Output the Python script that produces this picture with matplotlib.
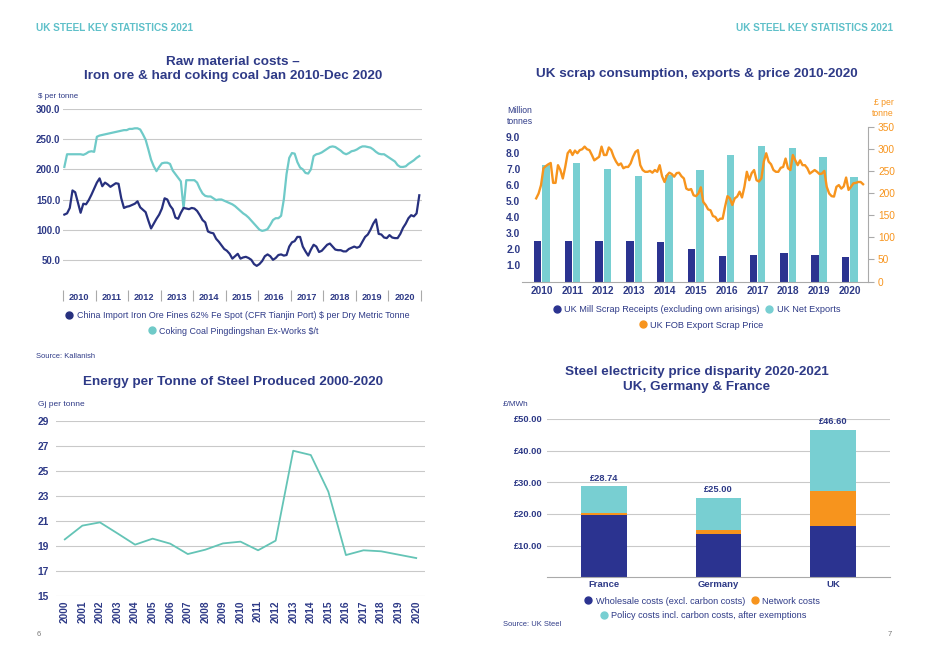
import numpy as np
import matplotlib
matplotlib.use("Agg")
import matplotlib.pyplot as plt
from matplotlib.lines import Line2D

plt.rcParams['font.family'] = ['Liberation Sans', 'DejaVu Sans']

# ---------------- DATA ----------------
# Raw material costs, monthly Jan 2010 - Dec 2020 ($ per tonne)
iron_ore = [125, 127, 136, 165, 162, 145, 128, 143, 142, 149, 158, 168,
            178, 185, 172, 178, 175, 171, 174, 177, 176, 152, 136, 138,
            139, 141, 143, 147, 137, 133, 129, 115, 102, 110, 118, 125,
            135, 152, 150, 140, 134, 120, 118, 128, 136, 135, 134, 136,
            135, 131, 124, 116, 112, 97, 95, 94, 85, 80, 74, 68,
            65, 60, 52, 56, 60, 52, 54, 55, 53, 50, 43, 40,
            43, 48, 56, 59, 56, 50, 53, 58, 59, 57, 58, 72,
            79, 81, 88, 88, 72, 64, 57, 67, 75, 72, 63, 65,
            70, 75, 77, 72, 67, 66, 66, 64, 64, 68, 70, 72,
            70, 72, 80, 88, 92, 100, 110, 117, 93, 92, 87, 86,
            91, 87, 86, 86, 93, 103, 110, 119, 124, 122, 127, 157]
coking_coal = [204, 225, 225, 225, 225, 225, 225, 224, 226, 229, 230, 229,
               254, 256, 257, 258, 259, 260, 261, 262, 263, 264, 265, 265,
               267, 267, 268, 268, 266, 258, 249, 233, 216, 205, 197, 204,
               210, 211, 211, 209, 198, 192, 186, 180, 135, 182, 182, 182,
               182, 178, 168, 160, 156, 155, 155, 152, 149, 150, 150, 148,
               146, 144, 142, 139, 135, 131, 127, 124, 120, 115, 110, 105,
               100, 98, 99, 101, 108, 116, 119, 119, 123, 150, 192, 219,
               227, 226, 212, 203, 200, 194, 193, 200, 222, 225, 226, 228,
               231, 234, 237, 238, 237, 234, 231, 227, 225, 227, 230, 231,
               233, 236, 238, 238, 237, 236, 233, 229, 226, 225, 225, 222,
               219, 216, 213, 207, 204, 204, 205, 209, 212, 215, 219, 222]
raw_years = [str(y) for y in range(2010, 2021)]

# UK scrap (million tonnes) and price (GBP per tonne)
scrap_years = [str(y) for y in range(2010, 2021)]
mill_receipts = [2.5, 2.5, 2.5, 2.5, 2.45, 2.0, 1.6, 1.67, 1.8, 1.68, 1.55]
net_exports = [7.23, 7.36, 6.98, 6.57, 6.62, 6.94, 7.88, 8.44, 8.31, 7.73, 6.53]
scrap_price = [188, 199, 218, 256, 261, 265, 268, 223, 223, 263, 252, 233,
               259, 290, 297, 286, 296, 290, 297, 299, 305, 299, 297, 286,
               274, 278, 282, 305, 286, 286, 303, 297, 282, 271, 263, 267,
               256, 259, 259, 267, 282, 293, 297, 263, 252, 248, 248, 250,
               246, 252, 248, 263, 238, 225, 240, 246, 243, 237, 245, 246,
               238, 233, 210, 207, 209, 195, 193, 199, 213, 180, 173, 163,
               161, 148, 146, 137, 142, 142, 169, 193, 188, 173, 188, 192,
               203, 190, 214, 248, 229, 245, 252, 229, 226, 233, 271, 290,
               271, 265, 252, 248, 248, 257, 259, 278, 256, 252, 286, 274,
               263, 274, 263, 263, 256, 244, 248, 252, 248, 243, 244, 250,
               214, 199, 193, 192, 214, 218, 210, 215, 235, 207, 214, 222,
               223, 225, 225, 220]

# Energy per tonne of steel (GJ per tonne)
energy_years = list(range(2000, 2021))
energy = [19.52, 20.62, 20.88, 20.0, 19.1, 19.58, 19.18, 18.35, 18.7, 19.2,
          19.34, 18.65, 19.42, 26.6, 26.26, 23.33, 18.27, 18.65, 18.57, 18.3, 18.03]

# Electricity price (GBP/MWh)
countries = ['France', 'Germany', 'UK']
wholesale = [19.7, 13.7, 16.2]
network = [0.5, 1.1, 11.0]
policy = [8.54, 10.2, 19.4]
totals = [28.74, 25.00, 46.60]

# ---------------- STYLE ----------------
NAVY = '#2b3390'
NAVY_TXT = '#2e3a87'
TEAL = '#78cfd2'
TEAL_LINE = '#6fcac8'
GREEN_LINE = '#64c4b6'
ORANGE = '#f7941d'
HEAD = '#5fc0c9'
GRID = '#c9c9c9'
TITLE_FS = 9.7

W, H = 933, 662
fig = plt.figure(figsize=(W / 100, H / 100), dpi=100)


def fx(px):
    return px / W


def fy(py):
    return 1 - py / H


def axes_px(l, t, r, b):
    return fig.add_axes([fx(l), fy(b), (r - l) / W, (b - t) / H])


def clean(ax):
    for s in ax.spines.values():
        s.set_visible(False)


def bold_ticks(labels):
    for t in labels:
        t.set_fontweight('bold')


def legend_row(items, cx, cy, fs=6.4):
    handles = [Line2D([], [], ls='none', marker='o', ms=5, color=c, label=l) for l, c in items]
    lg = fig.legend(handles=handles, loc='center', bbox_to_anchor=(fx(cx), fy(cy)),
                    ncol=len(items), frameon=False, fontsize=fs, handlelength=0.6,
                    handletextpad=0.5, columnspacing=0.8, borderpad=0, labelcolor=NAVY_TXT)
    return lg


# headers
fig.text(fx(36), fy(28), 'UK STEEL KEY STATISTICS 2021', color=HEAD, fontsize=7.2,
         fontweight='bold', va='center', ha='left')
fig.text(fx(893), fy(28), 'UK STEEL KEY STATISTICS 2021', color=HEAD, fontsize=7.2,
         fontweight='bold', va='center', ha='right')
fig.text(fx(37), fy(634), '6', color='#777777', fontsize=5.5, va='center')
fig.text(fx(892), fy(634), '7', color='#777777', fontsize=5.5, va='center', ha='right')

# ---------------- Chart 1: raw materials ----------------
ax1 = axes_px(63, 109, 422, 290)
clean(ax1)
n = len(iron_ore)
xm = np.arange(n) + 0.5
ax1.plot(xm, coking_coal, color=TEAL_LINE, lw=1.6, solid_joinstyle='round')
ax1.plot(xm, iron_ore, color='#27307e', lw=1.6, solid_joinstyle='round')
ax1.set_xlim(0, n + 0.5)
ax1.set_ylim(0, 300)
ax1.set_yticks([50, 100, 150, 200, 250, 300])
ax1.set_yticklabels([f'{v:.1f}' for v in [50, 100, 150, 200, 250, 300]])
ax1.yaxis.grid(True, color=GRID, lw=0.8)
ax1.set_axisbelow(True)
ax1.tick_params(axis='y', length=0, pad=2, labelsize=7, labelcolor=NAVY_TXT)
bold_ticks(ax1.get_yticklabels())
ax1.set_xticks(np.arange(0, n + 1, 12))
ax1.set_xticklabels([])
ax1.tick_params(axis='x', which='major', length=8, width=0.8, color='#aaaaaa', direction='out')
ax1.set_xticks(np.arange(6, n, 12), minor=True)
ax1.set_xticklabels(raw_years, minor=True)
ax1.tick_params(axis='x', which='minor', length=0, pad=2.5, labelsize=6.6, labelcolor=NAVY_TXT)
bold_ticks(ax1.get_xticklabels(minor=True))
fig.text(fx(233), fy(62), 'Raw material costs –', ha='center', va='center',
         fontsize=TITLE_FS, fontweight='bold', color=NAVY_TXT)
fig.text(fx(233), fy(76), 'Iron ore & hard coking coal Jan 2010-Dec 2020', ha='center',
         va='center', fontsize=TITLE_FS, fontweight='bold', color=NAVY_TXT)
fig.text(fx(38), fy(97), '$ per tonne', fontsize=5.7, color=NAVY_TXT, va='center')
legend_row([('China Import Iron Ore Fines 62% Fe Spot (CFR Tianjin Port) $ per Dry Metric Tonne', '#27307e')], 238, 316)
legend_row([('Coking Coal Pingdingshan Ex-Works $/t', TEAL_LINE)], 234, 331)
fig.text(fx(36), fy(356), 'Source: Kallanish', fontsize=5.4, color=NAVY_TXT, va='center')

# ---------------- Chart 2: scrap ----------------
ax2 = axes_px(521.7, 126.7, 868.3, 281.5)
clean(ax2)
xs = np.arange(len(scrap_years))
bw = 0.24
ax2.bar(xs - bw / 2 - 0.015, mill_receipts, width=bw, color=NAVY, zorder=2)
ax2.bar(xs + bw / 2 + 0.015, net_exports, width=bw, color=TEAL, zorder=2)
ax2.set_xlim(-0.65, 10.6)
ax2.set_ylim(0, 9.64)
ax2.set_yticks(np.arange(1, 10))
ax2.set_yticklabels([f'{v:.1f}' for v in np.arange(1, 10)])
ax2.tick_params(axis='y', length=0, pad=1, labelsize=7.4, labelcolor=NAVY_TXT)
bold_ticks(ax2.get_yticklabels())
ax2.set_xticks(xs)
ax2.set_xticklabels(scrap_years)
ax2.tick_params(axis='x', length=0, pad=3, labelsize=7.3, labelcolor=NAVY_TXT)
bold_ticks(ax2.get_xticklabels())
ax2.spines['bottom'].set_visible(True)
ax2.spines['bottom'].set_color('#aaaaaa')
ax2.spines['bottom'].set_linewidth(0.8)
ax2r = ax2.twinx()
clean(ax2r)
ax2r.spines['right'].set_visible(True)
ax2r.spines['right'].set_color('#aaaaaa')
ax2r.spines['right'].set_linewidth(0.8)
np_ = len(scrap_price)
xp = -0.18 + np.arange(np_) * (10.61 / (np_ - 1))
ax2r.plot(xp, scrap_price, color=ORANGE, lw=1.7, zorder=3, solid_joinstyle='round')
ax2r.set_ylim(0, 350)
ax2r.set_yticks(np.arange(0, 351, 50))
ax2r.tick_params(axis='y', length=4, width=0.8, color='#aaaaaa', pad=3, labelsize=7.3,
                 labelcolor=ORANGE)
fig.text(fx(697), fy(74), 'UK scrap consumption, exports & price 2010-2020', ha='center',
         va='center', fontsize=TITLE_FS, fontweight='bold', color=NAVY_TXT)
fig.text(fx(507), fy(116), 'Million\ntonnes', fontsize=6.2, color=NAVY_TXT, va='center',
         linespacing=1.3)
fig.text(fx(894), fy(108), '£ per\ntonne', fontsize=6.2, color=ORANGE, va='center',
         ha='right', linespacing=1.3)
legend_row([('UK Mill Scrap Receipts (excluding own arisings)', NAVY),
            ('UK Net Exports', TEAL)], 697, 310, fs=6.6)
legend_row([('UK FOB Export Scrap Price', ORANGE)], 702, 325, fs=6.6)

# ---------------- Chart 3: energy ----------------
ax3 = axes_px(56, 420.7, 425, 596)
clean(ax3)
ax3.plot(energy_years, energy, color=GREEN_LINE, lw=1.3)
ax3.set_xlim(1999.5, 2020.5)
ax3.set_ylim(15, 29)
ax3.set_yticks(np.arange(15, 30, 2))
ax3.yaxis.grid(True, color=GRID, lw=0.8)
ax3.set_axisbelow(True)
ax3.tick_params(axis='y', length=0, pad=5, labelsize=7.4, labelcolor=NAVY_TXT)
bold_ticks(ax3.get_yticklabels())
ax3.set_xticks(energy_years)
ax3.set_xticklabels([str(y) for y in energy_years], rotation=90)
ax3.tick_params(axis='x', length=0, pad=3, labelsize=7.3, labelcolor=NAVY_TXT)
bold_ticks(ax3.get_xticklabels())
fig.text(fx(233), fy(382), 'Energy per Tonne of Steel Produced 2000-2020', ha='center',
         va='center', fontsize=TITLE_FS, fontweight='bold', color=NAVY_TXT)
fig.text(fx(38), fy(404), 'Gj per tonne', fontsize=6.0, color=NAVY_TXT, va='center')

# ---------------- Chart 4: electricity ----------------
ax4 = axes_px(547, 419, 890, 577.3)
clean(ax4)
xc = np.arange(len(countries))
bw4 = 0.4
b_net = np.array(wholesale)
b_pol = b_net + np.array(network)
ax4.bar(xc, wholesale, width=bw4, color=NAVY, zorder=2)
ax4.bar(xc, network, width=bw4, bottom=b_net, color=ORANGE, zorder=2)
ax4.bar(xc, policy, width=bw4, bottom=b_pol, color=TEAL, zorder=2)
for x, tval in zip(xc, totals):
    ax4.text(x, tval + 1.2, f'£{tval:.2f}', ha='center', va='bottom', fontsize=6.7,
             fontweight='bold', color=NAVY_TXT)
ax4.set_xlim(-0.5, 2.5)
ax4.set_ylim(0, 50)
ax4.set_yticks([10, 20, 30, 40, 50])
ax4.set_yticklabels([f'£{v:.2f}' for v in [10, 20, 30, 40, 50]])
ax4.yaxis.grid(True, color=GRID, lw=0.8)
ax4.set_axisbelow(True)
ax4.spines['bottom'].set_visible(True)
ax4.spines['bottom'].set_color('#aaaaaa')
ax4.spines['bottom'].set_linewidth(0.8)
ax4.tick_params(axis='y', length=0, pad=3, labelsize=6.7, labelcolor=NAVY_TXT)
bold_ticks(ax4.get_yticklabels())
ax4.set_xticks(xc)
ax4.set_xticklabels(countries)
ax4.tick_params(axis='x', length=0, pad=2, labelsize=6.8, labelcolor=NAVY_TXT)
bold_ticks(ax4.get_xticklabels())
fig.text(fx(697), fy(372), 'Steel electricity price disparity 2020-2021', ha='center',
         va='center', fontsize=TITLE_FS, fontweight='bold', color=NAVY_TXT)
fig.text(fx(697), fy(387), 'UK, Germany & France', ha='center',
         va='center', fontsize=TITLE_FS, fontweight='bold', color=NAVY_TXT)
fig.text(fx(503), fy(404), '£/MWh', fontsize=5.9, color=NAVY_TXT, va='center')
legend_row([('Wholesale costs (excl. carbon costs)', NAVY), ('Network costs', ORANGE)], 703, 601, fs=6.6)
legend_row([('Policy costs incl. carbon costs, after exemptions', TEAL)], 704, 616, fs=6.6)
fig.text(fx(503), fy(624), 'Source: UK Steel', fontsize=5.4, color=NAVY_TXT, va='center')

fig.savefig('out.png', dpi=100)
